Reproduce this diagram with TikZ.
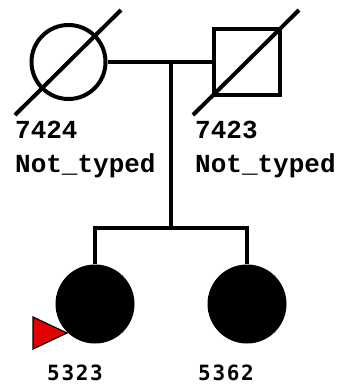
\documentclass[tikz,border=0pt]{standalone}
\usepackage{fontspec}
\newfontfamily\labfont[Scale=1.0]{Liberation Mono}
\newfontfamily\kidfont[LetterSpace=8]{DejaVu Sans Mono}
\usetikzlibrary{calc}
\begin{document}
\begin{tikzpicture}[x=1bp,y=-1bp,
  ln/.style={line width=4bp},
  female/.style={circle,draw,line width=4bp,minimum size=74bp,inner sep=0pt},
  male/.style={rectangle,draw,line width=4bp,minimum size=66bp,inner sep=0pt},
  affected/.style={circle,fill=black,minimum size=79bp,inner sep=0pt},
  idlab/.style={anchor=base west,inner sep=0pt,font=\fontsize{26bp}{28bp}\labfont\bfseries},
  kidlab/.style={anchor=base,inner sep=0pt,font=\fontsize{21bp}{24bp}\kidfont\bfseries},
  proband/.style={fill=red!90!black,draw=black,line width=1.2bp,line join=miter}]
\useasboundingbox (0,0) rectangle (343,390);
\node[female] (f) at (68.5,62) {};
\node[male] (m) at (247,62) {};
\draw[ln] (15,115) -- (121,10);
\draw[ln] (193,115) -- (299,10);
\coordinate (mid) at (171,62);
\coordinate (sib) at (171,228);
\coordinate (sl) at (95,228);
\coordinate (sr) at (247,228);
\node[affected] (c1) at (95,304) {};
\node[affected] (c2) at (247,304) {};
\draw[ln] (f.east) -- (m.west);
\draw[ln] (mid) -- (sib);
\draw[ln,line cap=rect] (sl) -- (sr);
\draw[ln] (sl) -- (c1.north);
\draw[ln] (sr) -- (c2.north);
\coordinate (t1) at (33,317);
\coordinate (t2) at (33,349);
\coordinate (t3) at (67,333);
\draw[proband] (t1) -- (t2) -- (t3) -- cycle;
\node[idlab] (l1) at (15,138) {7424};
\node[idlab] (l2) at (15,172) {Not\_typed};
\node[idlab] (l3) at (195,138) {7423};
\node[idlab] (l4) at (195,172) {Not\_typed};
\node[kidlab] (k1) at (75,380) {5323};
\node[kidlab] (k2) at (226,380) {5362};
\end{tikzpicture}
\end{document}
